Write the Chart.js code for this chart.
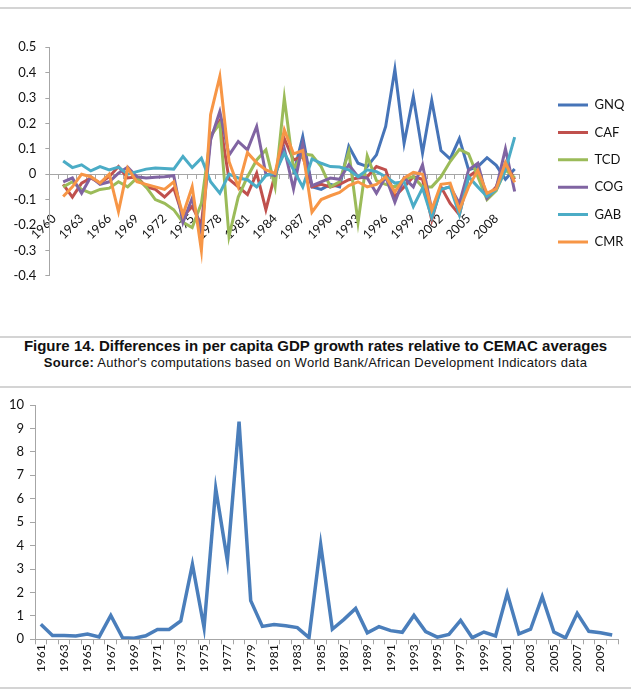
<!DOCTYPE html>
<html>
<head>
<meta charset="utf-8">
<script src="https://cdn.jsdelivr.net/npm/chart.js@4/dist/chart.umd.min.js"></script>
<style>
  html, body { margin: 0; padding: 0; background: #fff; }
  body { width: 631px; height: 691px; position: relative; overflow: hidden; font-family: "Liberation Sans", Arial, sans-serif; }
  .rule { position: absolute; left: 0; width: 631px; height: 0; border-top: 2px solid #d4d4d4; }
  #box1 { position: absolute; left: 0; top: 0; width: 631px; height: 330px; }
  #box2 { position: absolute; left: 0; top: 390px; width: 631px; height: 298px; }
  .cap { position: absolute; left: 0; width: 631px; text-align: center; color: #111; white-space: nowrap; }
</style>
</head>
<body>
<div class="rule" style="top:7px"></div>
<div id="box1"><canvas id="diff"></canvas></div>
<div class="rule" style="top:336px"></div>
<div class="cap" style="top:337px; font-size:15px; font-weight:bold">Figure 14. Differences in per capita GDP growth rates relative to CEMAC averages</div>
<div class="cap" style="top:355px; font-size:13px; letter-spacing:0.27px"><b>Source:</b> Author's computations based on World Bank/African Development Indicators data</div>
<div class="rule" style="top:386px"></div>
<div id="box2"><canvas id="cv"></canvas></div>
<div class="rule" style="top:687px"></div>

<script>
// --- top chart: differences relative to CEMAC averages ---
const diffYears = ['1960','1961','1962','1963','1964','1965','1966','1967','1968','1969',
  '1970','1971','1972','1973','1974','1975','1976','1977','1978','1979',
  '1980','1981','1982','1983','1984','1985','1986','1987','1988','1989',
  '1990','1991','1992','1993','1994','1995','1996','1997','1998','1999',
  '2000','2001','2002','2003','2004','2005','2006','2007','2008','2009','2010']

const countries = ['GNQ', 'CAF', 'TCD', 'COG', 'GAB', 'CMR']

const gnq = [null,
  null, null, null, null, null, null, null, null, null, null,
  null, null, null, null, null, null, null, null, null, null,
  null, null, null, null, null, 0.0, 0.148, -0.05, -0.06, -0.04,
  -0.05, 0.11, 0.043, 0.03, 0.076, 0.188, 0.413, 0.122, 0.306, 0.083,
  0.29, 0.093, 0.06, 0.14, 0.017, 0.03, 0.065, 0.035, -0.02, 0.02]

const caf = [null,
  -0.04, -0.09, -0.035, -0.015, -0.035, -0.01, 0.03, -0.015, -0.01, -0.05,
  -0.06, -0.09, -0.055, -0.167, -0.127, -0.2, 0.15, 0.21, -0.02, -0.05,
  -0.08, 0.004, -0.14, 0.0, 0.14, 0.056, 0.07, -0.05, -0.04, -0.05,
  -0.04, -0.022, -0.015, -0.01, 0.03, 0.017, -0.088, -0.05, -0.01, -0.02,
  -0.18, -0.05, -0.115, -0.16, -0.01, 0.017, -0.09, -0.05, 0.043, -0.02]

const tcd = [null,
  -0.05, -0.03, -0.06, -0.075, -0.06, -0.055, -0.03, -0.05, -0.015, -0.05,
  -0.1, -0.115, -0.14, -0.19, -0.21, -0.115, 0.15, 0.2, -0.245, -0.09,
  -0.01, 0.056, 0.096, -0.05, 0.3, 0.02, 0.08, 0.075, 0.03, -0.05,
  -0.03, 0.09, -0.19, 0.072, -0.025, -0.04, -0.05, -0.02, -0.01, -0.05,
  -0.05, -0.01, 0.05, 0.098, 0.08, -0.01, -0.1, -0.065, 0.017, -0.015]

const cog = [null,
  -0.03, -0.015, -0.075, -0.01, -0.04, -0.03, 0.004, 0.028, -0.01, -0.015,
  -0.012, -0.01, -0.006, -0.19, -0.095, -0.23, 0.135, 0.247, 0.075, 0.129,
  0.096, 0.188, 0.0, -0.005, 0.1, -0.058, 0.12, -0.045, -0.03, -0.015,
  -0.02, 0.037, -0.01, -0.015, -0.075, -0.01, -0.11, -0.015, -0.05, 0.037,
  -0.14, -0.06, -0.05, -0.115, 0.017, 0.043, -0.095, -0.055, 0.1, -0.068]

const gab = [null,
  0.052, 0.026, 0.037, 0.013, 0.03, 0.017, 0.028, 0.0, 0.01, 0.02,
  0.024, 0.022, 0.02, 0.07, 0.026, 0.063, -0.03, -0.075, 0.0, -0.015,
  -0.022, -0.05, -0.005, 0.004, 0.083, 0.017, -0.05, 0.06, 0.043, 0.03,
  0.028, 0.017, -0.01, 0.017, 0.01, -0.01, -0.035, -0.03, -0.127, -0.055,
  -0.17, -0.06, -0.05, -0.16, -0.01, -0.05, -0.088, -0.06, 0.017, 0.146]

const cmr = [null,
  -0.088, -0.05, 0.0, -0.01, -0.035, 0.0, -0.147, 0.024, -0.03, -0.04,
  -0.05, -0.06, -0.03, -0.16, -0.05, -0.3, 0.235, 0.385, 0.05, -0.05,
  0.085, 0.045, 0.017, 0.003, 0.175, 0.08, 0.093, -0.15, -0.1, -0.085,
  -0.072, -0.045, -0.03, -0.05, -0.04, -0.01, -0.07, -0.015, 0.007, 0.0,
  -0.14, -0.04, -0.035, -0.14, -0.05, 0.015, -0.075, -0.058, 0.045, -0.032]

const diffTicks = [-0.4, -0.3, -0.2, -0.1, 0, 0.1, 0.2, 0.3, 0.4, 0.5]

// --- bottom chart ---
const years2 = ['1961','1962','1963','1964','1965','1966','1967','1968','1969','1970',
  '1971','1972','1973','1974','1975','1976','1977','1978','1979','1980',
  '1981','1982','1983','1984','1985','1986','1987','1988','1989','1990',
  '1991','1992','1993','1994','1995','1996','1997','1998','1999','2000',
  '2001','2002','2003','2004','2005','2006','2007','2008','2009','2010']

const values2 = [0.64, 0.16, 0.16, 0.14, 0.22, 0.10, 1.02, 0.07, 0.05, 0.15,
  0.42, 0.42, 0.78, 3.2, 0.5, 6.43, 3.35, 9.29, 1.65, 0.55,
  0.63, 0.58, 0.5, 0.07, 4.05, 0.43, 0.85, 1.32, 0.28, 0.54,
  0.37, 0.3, 1.02, 0.33, 0.09, 0.21, 0.81, 0.07, 0.31, 0.14,
  1.96, 0.23, 0.43, 1.82, 0.31, 0.06, 1.11, 0.34, 0.28, 0.18]

const ticks2 = [0, 1, 2, 3, 4, 5, 6, 7, 8, 9, 10]


const series = [gnq, caf, tcd, cog, gab, cmr]
const colors = ['#4674b8', '#c0504d', '#9bbb59', '#8064a2', '#4bacc6', '#f79646']
const axisGray = '#a6a6a6'
const labelFont = { family: 'Lato', size: 13 }

// moves the legend block to where excel put it
const legendNudge = {
  id: 'legendNudge',
  afterLayout(chart, args, opts) {
    const lg = chart.legend
    if (!lg) return
    const dx = opts.x - (lg.left + lg.options.labels.padding)
    lg.left += dx
    lg.right += dx
    lg.top += opts.dy
    lg.bottom += opts.dy
  }
}

new Chart(document.getElementById('diff'), {
  type: 'line',
  data: {
    labels: diffYears,
    datasets: countries.map((c, k) => ({
      label: c,
      data: series[k],
      borderColor: colors[k],
      backgroundColor: colors[k],
      borderWidth: 3,
      pointRadius: 0,
      order: countries.length - k
    }))
  },
  plugins: [legendNudge],
  options: {
    responsive: true,
    maintainAspectRatio: false,
    animation: false,
    layout: { padding: { top: 47.3, bottom: 54.3, left: 0, right: 21 } },
    plugins: {
      tooltip: { enabled: false },
      legendNudge: { x: 558, dy: 12 },
      legend: {
        position: 'right',
        align: 'center',
        labels: {
          boxWidth: 30,
          boxHeight: 3,
          padding: 14.4,
          color: '#111',
          font: labelFont,
          sort: (a, b) => a.datasetIndex - b.datasetIndex,
          generateLabels: (chart) => Chart.defaults.plugins.legend.labels.generateLabels(chart)
            .map(l => ({ ...l, fillStyle: l.strokeStyle, lineWidth: 0 }))
        }
      }
    },
    scales: {
      x: {
        type: 'category',
        position: { y: 0 },
        offset: true,
        grid: { offset: true, drawOnChartArea: false, tickLength: 4, color: axisGray },
        border: { color: axisGray },
        ticks: {
          autoSkip: false,
          minRotation: 45,
          maxRotation: 45,
          padding: 33,
          color: '#111',
          font: { family: 'Lato', size: 12.5 },
          callback: (v, i) => (i % 3 === 0 ? diffYears[i] : '')
        }
      },
      y: {
        min: -0.4,
        max: 0.5,
        afterFit: (s) => { s.width = 46.7 },
        afterBuildTicks: (s) => { s.ticks = diffTicks.map(v => ({ value: v })) },
        grid: { drawOnChartArea: false, tickLength: 4, color: axisGray },
        border: { color: axisGray },
        ticks: { padding: 9, color: '#111', font: labelFont }
      }
    }
  }
})

new Chart(document.getElementById('cv'), {
  type: 'line',
  data: {
    labels: years2,
    datasets: [{
      data: values2,
      borderColor: '#4a7ebb',
      borderWidth: 3.5,
      pointRadius: 0
    }]
  },
  options: {
    responsive: true,
    maintainAspectRatio: false,
    animation: false,
    layout: { padding: { top: 15, right: 13, left: 0, bottom: 0 } },
    plugins: { legend: { display: false }, tooltip: { enabled: false } },
    scales: {
      x: {
        offset: true,
        afterFit: (s) => { s.height = 48.7 },
        grid: { offset: true, drawOnChartArea: false, tickLength: 5, color: axisGray },
        border: { color: axisGray },
        ticks: {
          autoSkip: false,
          minRotation: 90,
          maxRotation: 90,
          padding: 0,
          color: '#111',
          font: { family: 'Lato', size: 12 },
          callback: (v, i) => (i % 2 === 0 ? years2[i] : '')
        }
      },
      y: {
        min: 0,
        max: 10,
        afterFit: (s) => { s.width = 35 },
        afterBuildTicks: (s) => { s.ticks = ticks2.map(v => ({ value: v })) },
        grid: { drawOnChartArea: false, tickLength: 5, color: axisGray },
        border: { color: axisGray },
        ticks: { padding: 6, color: '#111', font: labelFont }
      }
    }
  }
})
</script>
</body>
</html>
